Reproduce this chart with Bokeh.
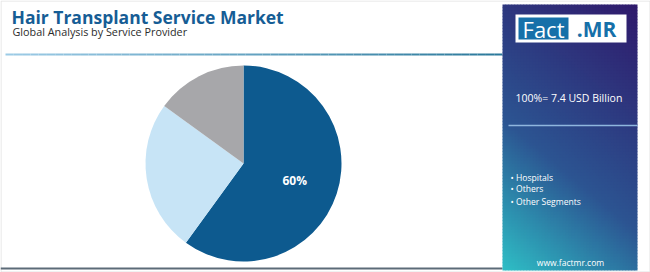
import numpy as np
from bokeh.plotting import figure
from bokeh.models import Range1d
from bokeh.core.properties import value
from bokeh.embed import file_html
from bokeh.resources import INLINE

# ---- data ----
categories = ["Hospitals", "Others", "Other Segments"]
shares = [60, 25, 15]
colors = ["#0d5a8f", "#c7e4f6", "#a7a7aa"]
title = "Hair Transplant Service Market"
subtitle = "Global Analysis by Service Provider"
total_label = "100%= 7.4 USD Billion"

W, H = 650, 272
p = figure(width=W, height=H, output_backend="svg", toolbar_location=None,
           x_range=Range1d(0, W), y_range=Range1d(0, H), min_border=0)
p.axis.visible = False
p.grid.visible = False
p.outline_line_color = None
p.background_fill_color = "white"
p.border_fill_color = "white"

def Y(y):
    return H - y

# outer border
p.rect(x=W/2, y=H/2, width=W-1, height=H-1, fill_color=None, line_color="#e2e2e2", line_width=1)

# titles
p.text(x=[11], y=[Y(16)], text=[title], text_font=value("Open Sans"), text_font_style="bold",
       text_font_size="17.5px", text_color="#165d95", text_baseline="middle")
p.text(x=[12], y=[Y(31)], text=[subtitle], text_font=value("Open Sans"),
       text_font_size="10.8px", text_color="#2b2b2b", text_baseline="middle")

# header gradient line
n = 60
xs = np.linspace(5, 502, n + 1)
c0 = np.array([0x9c, 0xcb, 0xe6]); c1 = np.array([0x2a, 0x78, 0x9a])
segcols = ["#%02x%02x%02x" % tuple((c0 + (c1 - c0) * (i / n)).astype(int)) for i in range(n)]
p.segment(x0=xs[:-1], y0=[Y(54)] * n, x1=xs[1:], y1=[Y(54)] * n, line_color=segcols, line_width=2)

# bottom line
p.segment(x0=[0], y0=[Y(268)], x1=[502], y1=[Y(268)], line_color="#5c6b78", line_width=2)

# pie
cx, cy, r = 243, Y(163), 98
fr = np.array(shares) / sum(shares)
ends = np.cumsum(fr) * 2 * np.pi
starts = np.concatenate([[0], ends[:-1]])
start_a = np.pi / 2 - starts
end_a = np.pi / 2 - ends
p.wedge(x=cx, y=cy, radius=r, start_angle=start_a, end_angle=end_a, direction="clock",
        fill_color=colors, line_color=None)
mid = np.pi / 2 - (starts[0] + ends[0]) / 2
p.text(x=[cx + 0.55 * r * np.cos(mid)], y=[cy + 0.55 * r * np.sin(mid)], text=["%d%%" % shares[0]],
       text_font=value("Open Sans"), text_font_style="bold", text_font_size="12px",
       text_color="white", text_align="center", text_baseline="middle")

# right panel gradient (grid of small cells; screen coords, y downward)
px0, px1, py0, py1 = 502, 637, 4, 270
cs = 3
gxs = np.arange(px0, px1, cs)
gys = np.arange(py0, py1, cs)
L, R, T, B, C = [], [], [], [], []
top = np.array([0x30, 0x1a, 0x6c]); midc = np.array([0x2c, 0x55, 0x92]); bot = np.array([0x2f, 0xbf, 0xc6])
for yy in gys:
    for xx in gxs:
        fx = (xx - px0) / (px1 - px0)
        fy = (yy - py0) / (py1 - py0)      # 0 top, 1 bottom
        t = 0.7 * (1 - fy) + 0.3 * fx      # 1 top-right, 0 bottom-left
        if t < 0.4:
            c = bot + (midc - bot) * (t / 0.4)
        else:
            c = midc + (top - midc) * ((t - 0.4) / 0.6)
        L.append(xx); R.append(min(xx + cs + 0.6, px1))
        T.append(Y(yy)); B.append(Y(min(yy + cs + 0.6, py1)))
        C.append("#%02x%02x%02x" % tuple(c.astype(int)))
p.quad(left=L, right=R, top=T, bottom=B, fill_color=C, line_color=None)

# logo
p.quad(left=515, right=626, top=Y(14), bottom=Y(42), fill_color="white", line_color=None)
p.quad(left=518, right=568, top=Y(17), bottom=Y(39), fill_color="#1670a9", line_color=None)
p.text(x=[543], y=[Y(28)], text=["Fact"], text_font=value("Open Sans"), text_font_size="22px",
       text_color="white", text_align="center", text_baseline="middle")
p.text(x=[596], y=[Y(28)], text=[".MR"], text_font=value("Open Sans"), text_font_style="bold",
       text_font_size="21px", text_color="#1670a9", text_align="center", text_baseline="middle")

# total
p.text(x=[515], y=[Y(97)], text=[total_label], text_font=value("Open Sans"), text_font_size="10.5px",
       text_color="white", text_baseline="middle")
p.segment(x0=[508], y0=[Y(125)], x1=[637], y1=[Y(125)], line_color="#8fb6de", line_width=1.5)

# legend
ly = [177, 188, 201]
p.text(x=[510] * 3, y=[Y(v) for v in ly], text=["\u2022 " + c for c in categories],
       text_font=value("Open Sans"), text_font_size="8.6px", text_color="white", text_baseline="middle")

p.text(x=[570], y=[Y(262)], text=["www.factmr.com"], text_font=value("Open Sans"),
       text_font_size="8.5px", text_color="white", text_align="center", text_baseline="middle")

open("out.html", "w").write(file_html(p, INLINE))
